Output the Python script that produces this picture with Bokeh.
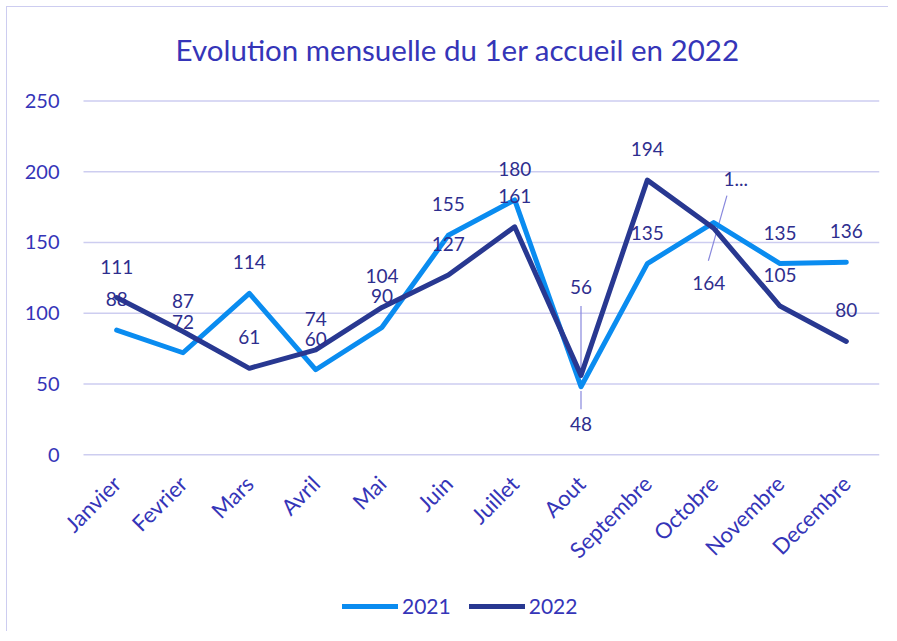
import math
from bokeh.plotting import figure
from bokeh.models import Range1d, FixedTicker, Legend, LegendItem, ColumnDataSource, Label
from bokeh.core.properties import value
from bokeh.embed import file_html
from bokeh.resources import INLINE

months = ["Janvier", "Fevrier", "Mars", "Avril", "Mai", "Juin", "Juillet",
          "Aout", "Septembre", "Octobre", "Novembre", "Decembre"]
v2021 = [88, 72, 114, 60, 90, 155, 180, 48, 135, 164, 135, 136]
v2022 = [111, 87, 61, 74, 104, 127, 161, 56, 194, 160, 105, 80]
labels2021 = [str(v) for v in v2021]
labels2022 = [str(v) for v in v2022]
labels2022[9] = "1..."
y_ticks = [0, 50, 100, 150, 200, 250]
title_text = "Evolution mensuelle du 1er accueil en 2022"

# label offsets in pixels (styling)
off2021_x = [0] * 12
off2021_y = [-31] * 12
off2022_x = [0] * 12
off2022_y = [-31] * 12
off2021_y[7] = 37
off2022_y[7] = -88
off2021_y[9] = 60
off2021_x[9] = -5
off2022_y[9] = -49
off2022_x[9] = 22

FONT = "Lato"
C2021 = "#0a8cf0"
C2022 = "#283891"
TICKC = "#3535b8"
LABC = "#2e2e8e"
GRID = "#cdcdf0"

xs = list(range(len(months)))

# the frame is extended around the value area so that the title, the
# legend and all axis labels sit inside it
PX_PER_Y = 354 / 250
PX_PER_X = 796 / 12
Y0, Y1 = -125, 316
X0, X1 = -0.5 - 76 / PX_PER_X, 11.5

p = figure(frame_width=int(round((X1 - X0) * PX_PER_X)),
           frame_height=int(round((Y1 - Y0) * PX_PER_Y)),
           output_backend="svg", toolbar_location=None,
           x_range=Range1d(X0, X1), y_range=Range1d(Y0, Y1),
           min_border_left=0, min_border_right=9, min_border_top=0,
           min_border_bottom=0)
p.outline_line_color = None
p.styles = {"border-left": "1.5px solid #cdcdf0", "border-top": "1.5px solid #cdcdf0",
            "margin-left": "6px", "margin-top": "6px"}
p.title.visible = False

title = Label(x=5.14, y=286.5, text=title_text, text_align="center",
              text_baseline="middle", text_font=FONT, text_font_size="29.5px",
              text_color=TICKC)
p.add_layout(title)

p.xaxis.ticker = FixedTicker(ticks=xs)
p.xaxis.major_label_overrides = {i: m for i, m in enumerate(months)}
p.xaxis.major_label_orientation = math.pi / 4
p.xaxis.fixed_location = 0
p.yaxis.ticker = FixedTicker(ticks=y_ticks)
p.yaxis.fixed_location = -0.5
for ax in (p.xaxis, p.yaxis):
    ax.axis_line_color = None
    ax.major_tick_line_color = None
    ax.minor_tick_line_color = None
    ax.major_tick_out = 0
    ax.major_label_text_font = FONT
    ax.major_label_text_color = TICKC
p.yaxis.major_label_text_font_size = "20px"
p.xaxis.major_label_text_font_size = "22px"
p.yaxis.major_label_standoff = 24
p.xaxis.major_label_standoff = 25
p.xgrid.grid_line_color = None
p.ygrid.grid_line_color = None

# horizontal gridlines over the category span only
p.segment(x0=[-0.5] * len(y_ticks), x1=[11.5] * len(y_ticks), y0=y_ticks, y1=y_ticks,
          line_color=GRID, line_width=1.5)

# leader lines
lead_x0 = [7, 7, 9.2]
lead_x1 = [7, 7, 8.92]
lead_y0 = [105, 32, 183]
lead_y1 = [58, 45, 137]
p.segment(x0=lead_x0, y0=lead_y0, x1=lead_x1, y1=lead_y1,
          line_color="#8888dd", line_width=1.2)

r1 = p.line(xs, v2021, line_color=C2021, line_width=5, line_cap="round", line_join="round")
r2 = p.line(xs, v2022, line_color=C2022, line_width=5, line_cap="round", line_join="round")

s1 = ColumnDataSource(dict(x=xs, y=v2021, t=labels2021, dx=off2021_x, dy=off2021_y))
s2 = ColumnDataSource(dict(x=xs, y=v2022, t=labels2022, dx=off2022_x, dy=off2022_y))
for s in (s1, s2):
    p.text(x="x", y="y", text="t", x_offset="dx", y_offset="dy", source=s,
           text_font=value(FONT), text_font_size="19px", text_color=LABC,
           text_align="center", text_baseline="middle")

legend = Legend(items=[LegendItem(label="2021", renderers=[r1]),
                       LegendItem(label="2022", renderers=[r2])],
                orientation="horizontal", location=(335, 13),
                label_text_font=FONT, label_text_font_size="21px",
                label_text_color=TICKC, glyph_width=56, glyph_height=20,
                border_line_color=None, background_fill_alpha=0,
                spacing=18, label_standoff=4, padding=0, margin=0)
p.add_layout(legend, "center")

open("out.html", "w").write(file_html(p, INLINE))
